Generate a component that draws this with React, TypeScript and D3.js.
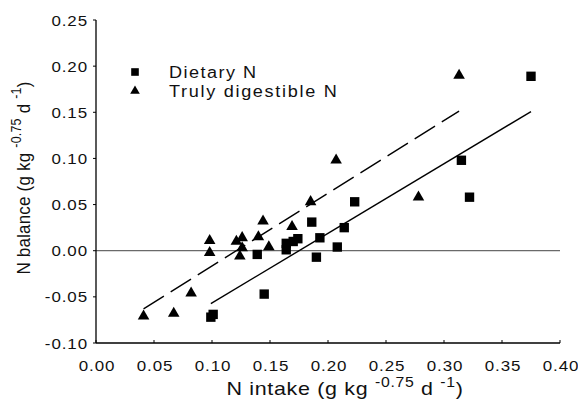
import * as d3 from "d3";

// Dietary N (squares)
const dietaryX = [0.099, 0.101, 0.139, 0.145, 0.164, 0.164, 0.170, 0.174, 0.186, 0.190, 0.193, 0.208, 0.214, 0.223, 0.315, 0.322, 0.375];
const dietaryY = [-0.072, -0.069, -0.004, -0.047, 0.001, 0.008, 0.010, 0.013, 0.031, -0.007, 0.014, 0.004, 0.025, 0.053, 0.098, 0.058, 0.189];

// Truly digestible N (triangles)
const digestX = [0.041, 0.067, 0.082, 0.098, 0.098, 0.121, 0.126, 0.126, 0.124, 0.140, 0.144, 0.149, 0.169, 0.185, 0.207, 0.278, 0.313];
const digestY = [-0.071, -0.068, -0.046, 0.011, -0.002, 0.010, 0.014, 0.003, -0.006, 0.015, 0.032, 0.004, 0.026, 0.053, 0.098, 0.058, 0.190];

// regression fits: [slope, intercept]
const dietaryFit = [0.754, -0.132];
const digestFit = [0.788, -0.0953];

const xTicks = [0, 0.05, 0.1, 0.15, 0.2, 0.25, 0.3, 0.35, 0.4];
const yTicks = [-0.1, -0.05, 0, 0.05, 0.1, 0.15, 0.2, 0.25];

const width = 578;
const height = 415;
const MARGIN = { top: 20, right: 18, bottom: 72, left: 96 };
const FONT = "'Liberation Sans', Arial, sans-serif";
const SX = 1.13; // the scanned figure is a bit wide

const Title = ({ main, tx, ty, rotate, size, sup, spacing }: any) => (
  <text
    transform={`translate(${tx},${ty}) scale(${SX},1)${rotate ? " rotate(-90)" : ""}`}
    textAnchor="middle"
    fontSize={size}
    letterSpacing={spacing}
    fill="#111"
  >
    {main} (g kg <tspan fontSize={sup} dy={-8}>-0.75</tspan>
    <tspan dy={8}> d </tspan>
    <tspan fontSize={sup} dy={-8}>-1</tspan>
    <tspan dy={8}>)</tspan>
  </text>
);

const App = () => {
  const x = d3.scaleLinear().domain([0, 0.4]).range([MARGIN.left, width - MARGIN.right]);
  const y = d3.scaleLinear().domain([-0.1, 0.25]).range([height - MARGIN.bottom, MARGIN.top]);

  const square = d3.symbol().type(d3.symbolSquare).size(88)();
  const triangle = d3.symbol().type(d3.symbolTriangle).size(58)();
  const squareSmall = d3.symbol().type(d3.symbolSquare).size(58)();
  const triangleSmall = d3.symbol().type(d3.symbolTriangle).size(40)();

  const line = d3
    .line<number[]>()
    .x((d) => x(d[0]))
    .y((d) => y(d[1]));

  const fitLine = (xs: number[], fit: number[]) => {
    const [lo, hi] = d3.extent(xs) as [number, number];
    return line([lo, hi].map((v) => [v, fit[0] * v + fit[1]])) || "";
  };

  return (
    <svg
      width={width}
      height={height}
      style={{ position: "absolute", left: 0, top: 0, background: "#fff" }}
      fontFamily={FONT}
    >
      {/* zero line */}
      <line x1={x(0)} x2={x(0.4)} y1={y(0)} y2={y(0)} stroke="#444" strokeWidth={1} />

      {/* y axis */}
      <line x1={x(0)} x2={x(0)} y1={y(0.25)} y2={y(-0.1)} stroke="#000" strokeWidth={1.3} />
      {yTicks.map((t, i) => (
        <g key={i}>
          <line x1={x(0) - 3} x2={x(0)} y1={y(t)} y2={y(t)} stroke="#000" />
          <text
            transform={`translate(${x(0) - 8},${y(t) + 5.5}) scale(${SX},1)`}
            textAnchor="end"
            fontSize={15}
            letterSpacing={0.8}
            fill="#111"
          >
            {t.toFixed(2)}
          </text>
        </g>
      ))}

      {/* x axis */}
      <line x1={x(0)} x2={x(0.4)} y1={y(-0.1)} y2={y(-0.1)} stroke="#000" strokeWidth={1.3} />
      {xTicks.map((t, i) => (
        <g key={i}>
          <line x1={x(t)} x2={x(t)} y1={y(-0.1)} y2={y(-0.1) - 3} stroke="#000" />
          <text
            transform={`translate(${x(t) + 1},${y(-0.1) + 28}) scale(${SX},1)`}
            textAnchor="middle"
            fontSize={15}
            letterSpacing={0.8}
            fill="#111"
          >
            {t.toFixed(2)}
          </text>
        </g>
      ))}

      {/* fit lines */}
      <path d={fitLine(dietaryX, dietaryFit)} stroke="#000" strokeWidth={1.4} fill="none" />
      <path d={fitLine(digestX, digestFit)} stroke="#000" strokeWidth={1.4} fill="none" strokeDasharray="24,8" />

      {/* points */}
      {digestX.map((v, i) => (
        <path key={"t" + i} d={triangle || ""} transform={`translate(${x(v)},${y(digestY[i])})`} fill="#000" />
      ))}
      {dietaryX.map((v, i) => (
        <path key={"s" + i} d={square || ""} transform={`translate(${x(v)},${y(dietaryY[i])})`} fill="#000" />
      ))}

      {/* legend */}
      <path d={squareSmall || ""} transform="translate(135,72)" fill="#000" />
      <text transform={`translate(169,77.5) scale(${SX},1)`} fontSize={16} letterSpacing={1.3} fill="#111">
        Dietary N
      </text>
      <path d={triangleSmall || ""} transform="translate(135,91)" fill="#000" />
      <text transform={`translate(169,96.5) scale(${SX},1)`} fontSize={16} letterSpacing={1.5} fill="#111">
        Truly digestible N
      </text>

      {/* axis titles */}
      <Title main="N intake" tx={345} ty={395} size={19} sup={14} spacing={0.6} />
      <Title main="N balance" tx={30} ty={178} rotate size={17} sup={12.5} spacing={0.2} />
    </svg>
  );
};

export default App;
